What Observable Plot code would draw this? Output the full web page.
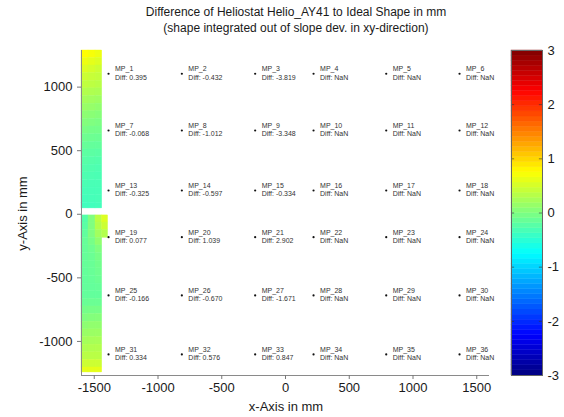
<!DOCTYPE html>
<html><head><meta charset="utf-8">
<script src="https://cdn.jsdelivr.net/npm/d3@7"></script>
<script src="https://cdn.jsdelivr.net/npm/@observablehq/plot@0.6"></script>
<style>
body{margin:0;background:#fff;font-family:"Liberation Sans",Arial,sans-serif;}
#wrap{position:relative;width:564px;height:417px;overflow:hidden;background:#fff;}
.t{position:absolute;white-space:nowrap;color:#1a1a1a;}
#main{position:absolute;left:0;top:38px;}
#cbar{position:absolute;left:500px;top:38px;}
</style></head><body>
<div id="wrap">
  <div class="t" style="left:0;width:592px;top:4px;text-align:center;font-size:12px;line-height:16px;">Difference of Heliostat Helio_AY41 to Ideal Shape in mm<br>(shape integrated out of slope dev. in xy-direction)</div>
  <div id="main"></div>
  <div id="cbar"></div>
  <div class="t" style="left:186px;width:200px;top:399px;text-align:center;font-size:13px;">x-Axis in mm</div>
  <div class="t" style="left:-78px;width:200px;top:206px;text-align:center;font-size:13px;transform:rotate(-90deg);">y-Axis in mm</div>
</div>
<script>
// ---- axes ----
const xDomain = [-1600, 1600];
const yDomain = [-1268, 1288];
const xTicks = [-1500, -1000, -500, 0, 500, 1000, 1500];
const yTicks = [-1000, -500, 0, 500, 1000];
const cbTicks = [-3, -2, -1, 0, 1, 2, 3];
const colorDomain = [-3, 3];

// ---- measurement points ----
const mpX = [-1388, -813, -238, 220, 790, 1365];
const mpY = [1105, 659, 187, -180, -638, -1102];
const mpDiff = [
  0.395, -0.432, -3.819, NaN, NaN, NaN,
  -0.068, -1.012, -3.348, NaN, NaN, NaN,
  -0.325, -0.597, -0.334, NaN, NaN, NaN,
  0.077, 1.039, 2.902, NaN, NaN, NaN,
  -0.166, -0.670, -1.671, NaN, NaN, NaN,
  0.334, 0.576, 0.847, NaN, NaN, NaN
];

// ---- measured surface strip (left edge of heliostat) ----
const stripColEdges = [-1600, -1545, -1490, -1438, -1392];
const upperRowEdges = [1288, 1230, 1170, 1110, 1050, 990, 930, 870, 810, 750, 690, 630, 570, 510, 450, 390, 330, 270, 210, 150, 90, 46];
const upperVals = [
  [0.75, 0.70, 0.65],
  [0.65, 0.60, 0.55],
  [0.55, 0.50, 0.45],
  [0.45, 0.42, 0.40],
  [0.38, 0.36, 0.34],
  [0.30, 0.28, 0.26],
  [0.22, 0.20, 0.18],
  [0.15, 0.13, 0.10],
  [0.08, 0.06, 0.04],
  [0.02, 0.00, -0.02],
  [-0.04, -0.06, -0.07],
  [-0.10, -0.11, -0.12],
  [-0.15, -0.16, -0.17],
  [-0.20, -0.21, -0.22],
  [-0.24, -0.25, -0.26],
  [-0.27, -0.28, -0.29],
  [-0.29, -0.30, -0.31],
  [-0.31, -0.32, -0.32],
  [-0.33, -0.33, -0.33],
  [-0.35, -0.34, -0.33],
  [-0.37, -0.36, -0.35]
];
const lowerRowEdges = [-9, -65, -125, -185, -245, -305, -365, -425, -485, -545, -605, -665, -725, -785, -845, -905, -965, -1025, -1085, -1145, -1205, -1244];
const lowerVals = [
  [-0.25, 0.00, 0.35, 0.55],
  [-0.22, 0.00, 0.30, 0.45],
  [-0.18, 0.00, 0.20, 0.30],
  [-0.15, -0.05, 0.10],
  [-0.15, -0.10, 0.00],
  [-0.15, -0.12, -0.05],
  [-0.15, -0.13, -0.08],
  [-0.16, -0.14, -0.10],
  [-0.17, -0.15, -0.12],
  [-0.17, -0.16, -0.15],
  [-0.17, -0.17, -0.17],
  [-0.13, -0.12, -0.12],
  [-0.06, -0.05, -0.05],
  [0.00, 0.02, 0.03],
  [0.08, 0.10, 0.10],
  [0.15, 0.16, 0.17],
  [0.22, 0.23, 0.24],
  [0.28, 0.29, 0.30],
  [0.34, 0.34, 0.34],
  [0.45, 0.45, 0.45],
  [0.60, 0.60, 0.60]
];

// ---- build tables ----
const mps = [];
mpY.forEach((y, r) => mpX.forEach((x, c) => {
  const i = r * mpX.length + c;
  const v = mpDiff[i];
  mps.push({x, y, label: `MP_${i + 1}\nDiff: ${isNaN(v) ? "NaN" : v.toFixed(3)}`});
}));
const cells = [];
function addCells(edges, vals) {
  vals.forEach((row, r) => row.forEach((v, c) => {
    cells.push({x1: stripColEdges[c], x2: stripColEdges[c + 1], y1: edges[r + 1], y2: edges[r], v});
  }));
}
addCells(upperRowEdges, upperVals);
addCells(lowerRowEdges, lowerVals);

// MATLAB "jet" colormap
const jet = t => {
  const c = x => Math.max(0, Math.min(1, x));
  return d3.rgb(255 * c(1.5 - Math.abs(4 * t - 3)), 255 * c(1.5 - Math.abs(4 * t - 2)), 255 * c(1.5 - Math.abs(4 * t - 1))).formatHex();
};
const colorScale = {type: "linear", domain: colorDomain, interpolate: jet};
const font = {fontFamily: "'Liberation Sans', Arial, sans-serif", fontSize: "13px", color: "#1a1a1a", background: "transparent", overflow: "visible"};

const main = Plot.plot({
  width: 500, height: 379,
  marginTop: 12, marginLeft: 81, marginRight: 11, marginBottom: 42,
  x: {domain: xDomain},
  y: {domain: yDomain},
  color: colorScale,
  style: font,
  marks: [
    Plot.rect(cells, {x1: "x1", x2: "x2", y1: "y1", y2: "y2", fill: "v", stroke: "v", strokeWidth: 0.4}),
    Plot.ruleY([yDomain[0]], {stroke: "#8a8a8a"}),
    Plot.ruleX([xDomain[0]], {stroke: "#8a8a8a"}),
    Plot.axisX({ticks: xTicks, tickSize: 4, tickPadding: 3, label: null, stroke: "#777", fill: "#1a1a1a", tickFormat: d => String(d)}),
    Plot.axisY({ticks: yTicks, tickSize: 4, tickPadding: 5, label: null, stroke: "#777", fill: "#1a1a1a", tickFormat: d => String(d)}),
    Plot.dot(mps, {x: "x", y: "y", r: 1.1, fill: "#111"}),
    Plot.text(mps, {x: "x", y: "y", text: "label", textAnchor: "start", dx: 6.5, dy: -1, fontSize: 7, lineHeight: 1.2, fill: "#333"})
  ]
});
document.getElementById("main").append(main);

const bands = d3.range(64).map(i => ({
  y1: colorDomain[0] + i * (colorDomain[1] - colorDomain[0]) / 64,
  y2: colorDomain[0] + (i + 1) * (colorDomain[1] - colorDomain[0]) / 64
})).map(d => ({...d, v: (d.y1 + d.y2) / 2}));

const cbar = Plot.plot({
  width: 64, height: 379,
  marginTop: 12, marginBottom: 42, marginLeft: 11, marginRight: 22,
  x: {domain: [0, 1], axis: null},
  y: {domain: colorDomain},
  color: colorScale,
  style: font,
  marks: [
    Plot.rect(bands, {x1: 0, x2: 1, y1: "y1", y2: "y2", fill: "v", stroke: "v", strokeWidth: 0.4}),
    Plot.ruleY(cbTicks, {y: d => d, x1: 0.9, x2: 1, stroke: "#333", strokeOpacity: 0.6}),
    Plot.ruleY(cbTicks, {y: d => d, x1: 0, x2: 0.1, stroke: "#333", strokeOpacity: 0.6}),
    Plot.frame({stroke: "#666"}),
    Plot.axisY({anchor: "right", ticks: cbTicks, tickSize: 0, tickPadding: 5, label: null, fill: "#1a1a1a", tickFormat: d => String(d)})
  ]
});
document.getElementById("cbar").append(cbar);
</script>
</body></html>
